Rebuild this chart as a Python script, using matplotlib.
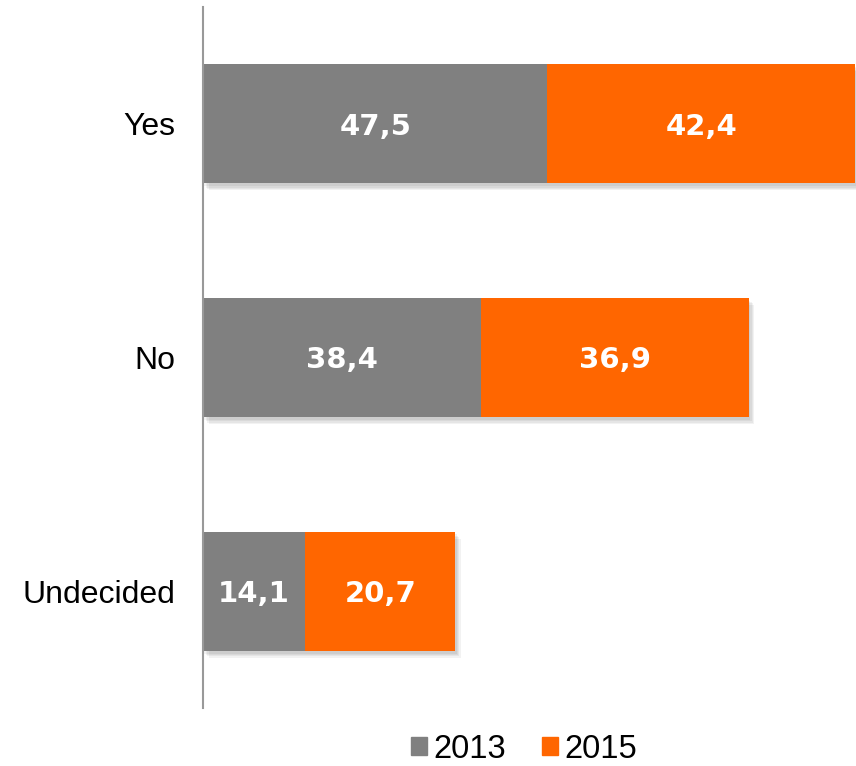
import matplotlib
matplotlib.use("Agg")
import matplotlib.pyplot as plt
import matplotlib.patheffects as pe
from matplotlib.patches import Patch

categories = ["Yes", "No", "Undecided"]
values_2013 = [47.5, 38.4, 14.1]
values_2015 = [42.4, 36.9, 20.7]
series_names = ["2013", "2015"]
colors = ["#808080", "#FF6600"]

fig = plt.figure(figsize=(8.56, 7.66), dpi=100)
ax = fig.add_axes([203/856, 1-708/766, (855.5-203)/856, (708-7)/766])

ypos = list(range(len(categories)))
shadow = [pe.SimplePatchShadow(offset=(o, -o - 1), shadow_rgbFace="#000000", alpha=0.05)
          for o in (4, 3, 2, 1)] + [pe.Normal()]
b1 = ax.barh(ypos, values_2013, height=0.51, color=colors[0], path_effects=shadow, zorder=2)
b2 = ax.barh(ypos, values_2015, left=values_2013, height=0.51, color=colors[1], path_effects=shadow, zorder=2)

for vals, lefts in [(values_2013, [0]*3), (values_2015, values_2013)]:
    for y, v, l in zip(ypos, vals, lefts):
        ax.text(l + v/2, y, f"{v:.1f}".replace(".", ","), ha="center", va="center_baseline",
                color="white", fontsize=21, fontweight="bold", family="DejaVu Sans", zorder=3)

ax.set_xlim(0, 90)
ax.set_ylim(2.5, -0.5)
ax.set_yticks(ypos)
ax.set_yticklabels(categories, fontsize=23, family="Liberation Sans", va="center_baseline")
ax.tick_params(axis="y", length=0, pad=20)
ax.set_xticks([])
for s in ["top", "right", "bottom"]:
    ax.spines[s].set_visible(False)
ax.spines["left"].set_color("#999999")
ax.spines["left"].set_linewidth(1.5)

handles = [Patch(color=c, label=n) for c, n in zip(colors, series_names)]
fig.legend(handles=handles, loc="center", bbox_to_anchor=(524/856, 1-749/766), ncol=2,
           frameon=False, prop={"family": "Liberation Sans", "size": 23.5},
           handlelength=0.5, handleheight=0.5, handletextpad=0.2, columnspacing=1.1)

fig.savefig("out.png", dpi=100)
